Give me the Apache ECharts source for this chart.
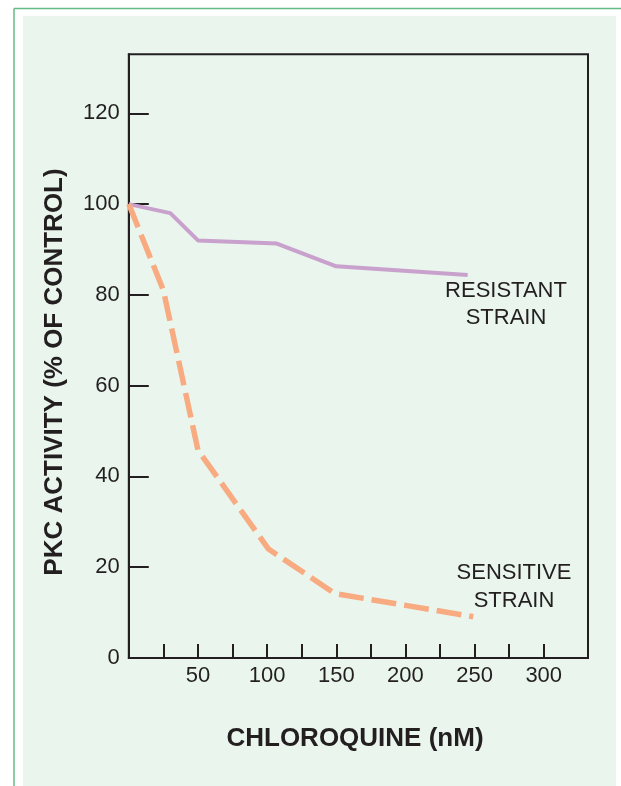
<!DOCTYPE html>
<html>
<head>
<meta charset="utf-8">
<script src="https://cdn.jsdelivr.net/npm/echarts@6/dist/echarts.min.js"></script>
<style>
html,body{margin:0;padding:0;background:#ffffff;}
#chart{width:621px;height:786px;}
</style>
</head>
<body>
<div id="chart"></div>
<script>
// ---- data ----
const resistantX = [0, 30, 50, 107, 150, 245];
const resistantY = [100, 98, 92, 91.3, 86.3, 84.4];
const sensitiveX = [0, 25, 50, 101, 149, 249];
const sensitiveY = [100, 81, 45.8, 24, 14.2, 9.1];
const xTickValues = [25, 50, 75, 100, 125, 150, 175, 200, 225, 250, 275, 300];
const xLabelValues = [50, 100, 150, 200, 250, 300];
const yTickValues = [0, 20, 40, 60, 80, 100, 120];
const xTitle = 'CHLOROQUINE (nM)';
const yTitle = 'PKC ACTIVITY (% OF CONTROL)';
const resistantLabel = 'RESISTANT\nSTRAIN';
const sensitiveLabel = 'SENSITIVE\nSTRAIN';

const ink = '#231f20';
const font = "'Liberation Sans', Arial, sans-serif";

function pairs(xs, ys) { return xs.map((x, i) => [x, ys[i]]); }

const chart = echarts.init(document.getElementById('chart'), null, {renderer: 'canvas'});
chart.setOption({
  animation: false,
  backgroundColor: '#ffffff',
  graphic: [
    {type: 'rect', z: -10, shape: {x: 23, y: 16, width: 593, height: 770}, style: {fill: '#e9f5ed'}},
    {type: 'line', z: -9, shape: {x1: 14, y1: 8.5, x2: 621, y2: 8.5}, style: {stroke: '#62bb88', lineWidth: 1.5}},
    {type: 'line', z: -9, shape: {x1: 14, y1: 8.5, x2: 14, y2: 786}, style: {stroke: '#62bb88', lineWidth: 1.5}},
    {type: 'text', x: 355, y: 739, style: {text: xTitle, font: "bold 26px " + font, fill: ink, textAlign: 'center', textVerticalAlign: 'middle'}},
    {type: 'text', x: 55, y: 372, rotation: Math.PI / 2, style: {text: yTitle, font: "bold 26px " + font, fill: ink, textAlign: 'center', textVerticalAlign: 'middle'}},
    {type: 'text', x: 506, y: 304, style: {text: resistantLabel, font: "22px " + font, fill: ink, textAlign: 'center', textVerticalAlign: 'middle', lineHeight: 27}},
    {type: 'text', x: 514, y: 587, style: {text: sensitiveLabel, font: "22px " + font, fill: ink, textAlign: 'center', textVerticalAlign: 'middle', lineHeight: 28}}
  ],
  grid: {
    left: 128.8, right: 33, top: 54.3, bottom: 128,
    show: true, borderColor: ink, borderWidth: 2, backgroundColor: 'transparent'
  },
  xAxis: {
    type: 'value', min: 0, max: 332,
    axisLine: {show: true, onZero: false, lineStyle: {color: ink, width: 2}},
    axisTick: {show: true, inside: true, length: 14, customValues: xTickValues, lineStyle: {color: ink, width: 2}},
    axisLabel: {show: true, customValues: xLabelValues, color: ink, fontSize: 22, fontFamily: font, margin: 7},
    splitLine: {show: false}
  },
  yAxis: {
    type: 'value', min: 0, max: 133,
    axisLine: {show: true, onZero: false, lineStyle: {color: ink, width: 2}},
    axisTick: {show: true, inside: true, length: 20, customValues: yTickValues, lineStyle: {color: ink, width: 2}},
    axisLabel: {show: true, customValues: yTickValues, color: ink, fontSize: 22, fontFamily: font, margin: 9, padding: [0, 0, 8, 0]},
    splitLine: {show: false}
  },
  series: [
    {
      name: 'Resistant strain', type: 'line', data: pairs(resistantX, resistantY),
      showSymbol: false, symbol: 'none', smooth: false,
      lineStyle: {color: '#c9a1cd', width: 4}
    },
    {
      name: 'Sensitive strain', type: 'line', data: pairs(sensitiveX, sensitiveY),
      showSymbol: false, symbol: 'none', smooth: false,
      lineStyle: {color: '#f8ab80', width: 5.5, type: [25, 8]}
    }
  ]
});
</script>
</body>
</html>
